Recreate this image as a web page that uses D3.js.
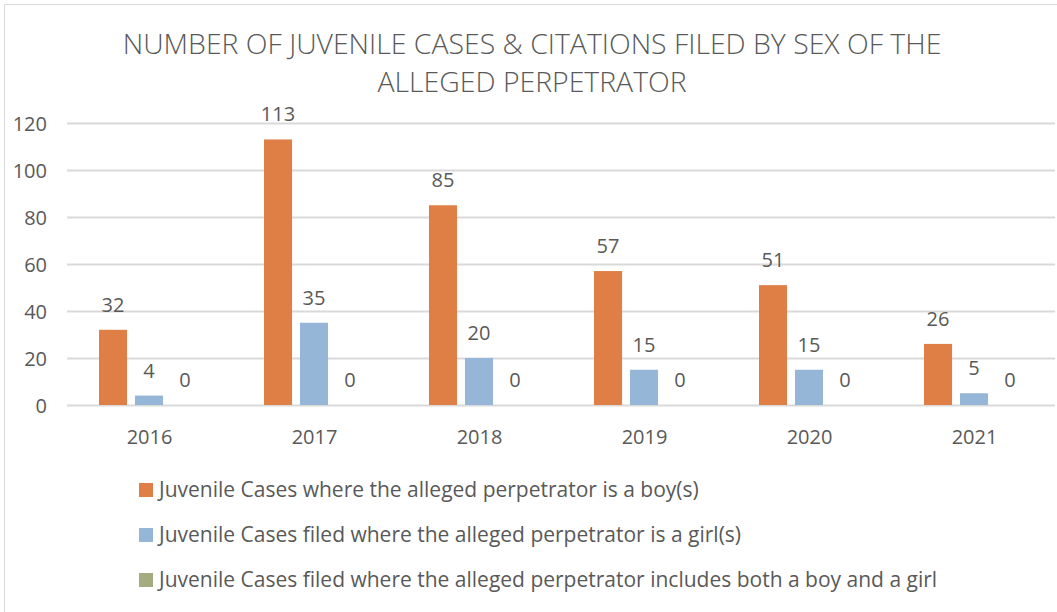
<!DOCTYPE html>
<html><head><meta charset="utf-8">
<script src="https://cdn.jsdelivr.net/npm/d3@7"></script>
<style>html,body{margin:0;padding:0;background:#fff;} svg{display:block;}</style>
</head><body>
<script>
const years = ["2016","2017","2018","2019","2020","2021"];
const boys  = [32,113,85,57,51,26];
const girls = [4,35,20,15,15,5];
const both  = [0,0,0,0,0,0];
const seriesNames = [
  "Juvenile Cases where the alleged perpetrator is a boy(s)",
  "Juvenile Cases filed where the alleged perpetrator is a girl(s)",
  "Juvenile Cases filed where the alleged perpetrator includes both a boy and a girl"
];
const seriesColors = ["#E07F45","#95B6D6","#A5AB80"];
const yTicks = [0,20,40,60,80,100,120];
const titleLines = ["NUMBER OF JUVENILE CASES & CITATIONS FILED BY SEX OF THE","ALLEGED PERPETRATOR"];

const W=1057,H=612;
const svg=d3.select("body").append("svg").attr("width",W).attr("height",H);
const font="'Open Sans', sans-serif", txt="#595959";

// border
svg.append("path").attr("d","M4.5,612 V4.5 H1057").attr("fill","none").attr("stroke","#d9d9d9").attr("stroke-width",1);

const x0=d3.scaleBand().domain(years).range([67,1057]).paddingInner(0).paddingOuter(0);
const y=d3.scaleLinear().domain([0,120]).range([405,123]);
const series=[boys,girls,both];
const x1=d3.scaleBand().domain([0,1,2]).range([32,132]).paddingInner(0.22).paddingOuter(0);

// gridlines via axis
const ga=svg.append("g").attr("transform","translate(67,0)")
  .call(d3.axisRight(y).tickValues(yTicks).tickSize(988).tickFormat(""));
ga.select(".domain").remove();
ga.selectAll("line").attr("stroke","#d9d9d9").attr("stroke-width",2);

// y labels
const ya=svg.append("g").attr("transform","translate(47,0)")
  .call(d3.axisLeft(y).tickValues(yTicks).tickSize(0).tickPadding(0));
ya.select(".domain").remove();
ya.selectAll("text").attr("font-family",font).attr("font-size",20).attr("fill",txt).attr("dy","0.35em");

// x labels
const xa=svg.append("g").attr("transform","translate(0,405)")
  .call(d3.axisBottom(x0).tickSize(0).tickPadding(0));
xa.select(".domain").remove();
xa.selectAll("text").attr("font-family",font).attr("font-size",20).attr("fill",txt).attr("dy","0").attr("y",39);

// bars
years.forEach((yr,i)=>{
  const g=svg.append("g").attr("transform",`translate(${x0(yr)},0)`);
  series.forEach((s,k)=>{
    const v=s[i];
    g.append("rect").attr("x",x1(k)).attr("width",x1.bandwidth())
      .attr("y",y(v)).attr("height",y(0)-y(v)).attr("fill",seriesColors[k]);
    g.append("text").attr("x",x1(k)+x1.bandwidth()/2).attr("y",y(v)-18)
      .attr("text-anchor","middle").attr("font-family",font).attr("font-size",20).attr("fill",txt).text(v);
  });
});

// title
const tl=[54,92];
titleLines.forEach((t,i)=>{
  svg.append("text").attr("x",532).attr("y",tl[i]).attr("text-anchor","middle")
    .attr("font-family",font).attr("font-weight",300).attr("font-size",28.4).attr("fill",txt).text(t);
});

// legend
const ly=[490,535,580];
seriesNames.forEach((n,k)=>{
  svg.append("rect").attr("x",139).attr("y",ly[k]-7).attr("width",14).attr("height",14).attr("fill",seriesColors[k]);
  svg.append("text").attr("x",159).attr("y",ly[k]).attr("dy","0.35em").attr("font-family",font).attr("font-size",21).attr("fill",txt).text(n);
});
</script>
</body></html>
